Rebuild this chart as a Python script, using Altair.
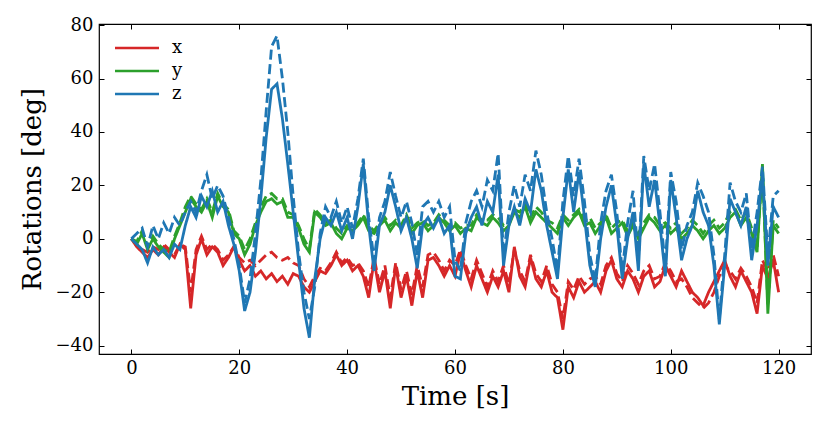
import altair as alt
import pandas as pd

# time stamps (s)
t = list(range(121))

# x rotation (red)
x_solid = [0, -3, -5, -7, -4, -6, -3, -5, -7, -2, -4, -26, -6, 0, -6, -3, -5, -10, -7, -3,
           -8, -12, -10, -14, -12, -15, -13, -16, -14, -17, -13, -14, -18, -20, -16, -12, -13, -10, -6, -10,
           -8, -12, -10, -14, -22, -8, -20, -12, -26, -10, -22, -14, -25, -12, -22, -8, -7, -10, -14, -10,
           -14, -5, -12, -18, -10, -15, -20, -14, -18, -12, -20, -3, -14, -18, -7, -15, -18, -12, -20, -22,
           -34, -18, -22, -16, -20, -18, -16, -20, -12, -8, -15, -18, -12, -15, -20, -14, -12, -18, -16, -10,
           -14, -18, -12, -16, -20, -22, -25, -20, -16, -12, -8, -14, -18, -12, -16, -20, -28, -10, -15, -8,
           -20]
x_dashed = [0, -2, -4, -5, -3, -4, -2, -4, -6, -2, -3, -20, -4, 1, -4, -2, -4, -8, -6, -3,
            -7, -9, -8, -10, -8, -6, -5, -7, -8, -7, -9, -10, -15, -18, -14, -11, -12, -9, -5, -9,
            -7, -10, -9, -12, -18, -7, -17, -10, -22, -9, -19, -12, -21, -10, -18, -6, -5, -8, -12, -8,
            -10, -4, -10, -15, -8, -13, -18, -12, -16, -10, -17, -4, -12, -16, -6, -13, -16, -10, -17, -20,
            -30, -16, -19, -14, -17, -15, -14, -17, -10, -7, -13, -16, -10, -13, -17, -12, -10, -15, -14, -9,
            -12, -16, -15, -18, -22, -24, -26, -24, -20, -14, -10, -12, -15, -11, -14, -18, -24, -8, -12, -6,
            -14]

# y rotation (green)
y_solid = [0, -2, 2, -4, 0, -3, -5, -7, 0, 5, 10, 15, 12, 10, 14, 8, 16, 12, 10, 2,
           0, -6, -2, 5, 10, 14, 15, 13, 14, 8, 8, 4, -2, -5, 10, 8, 5, 6, 2, 0,
           4, 3, 5, 8, 3, 2, 5, 7, 3, 6, 4, 8, 2, 5, 6, 3, 5, 8, 6, 3,
           5, 2, 4, 3, 8, 6, 5, 8, 6, 3, 5, 10, 8, 12, 6, 10, 8, 6, 4, 2,
           8, 5, 8, 10, 5, 6, 2, 5, 8, 2, 4, 6, 1, 5, 0, 4, 8, 6, 3, 5,
           2, 4, 0, 2, 5, 3, 0, 3, 5, 2, 4, 8, 10, 5, 8, 2, -5, 28, -28, 5,
           2]
y_dashed = [0, -1, 3, -3, 1, -2, -4, -5, 1, 6, 12, 16, 13, 11, 15, 10, 17, 13, 11, 3,
            1, -4, 0, 6, 12, 16, 17, 15, 15, 10, 9, 5, 0, -4, 11, 9, 6, 7, 4, 2,
            5, 4, 6, 9, 5, 3, 6, 8, 5, 7, 5, 9, 4, 6, 7, 5, 6, 9, 7, 5,
            6, 4, 5, 5, 9, 7, 7, 9, 8, 5, 6, 11, 10, 13, 8, 12, 10, 7, 6, 4,
            9, 7, 9, 11, 7, 8, 4, 6, 9, 4, 6, 7, 3, 6, 2, 6, 9, 8, 5, 6,
            4, 6, 2, 4, 7, 5, 2, 5, 7, 4, 6, 10, 11, 7, 10, 4, -3, 26, -25, 7,
            4]

# z rotation (blue)
z_solid = [0, -2, -4, -9, -3, -6, -4, -7, -2, -4, 5, 12, 8, 16, 12, 18, 10, 14, 5, -2,
           -12, -27, -20, -5, 15, 38, 56, 58, 45, 28, 10, -8, -26, -37, -15, 0, 8, 5, 10, 3,
           8, 0, 12, 28, 5, -12, 5, 10, 20, 12, 3, 8, 0, -11, 5, 8, 4, 8, 2, 5,
           -14, -15, 2, 8, 12, 5, 14, 10, 24, -10, 5, 12, 5, 15, 10, 26, 18, 5, -5, -15,
           8, 26, 10, 25, 8, -10, -18, 0, 12, 20, 5, -15, 0, 10, -12, 28, 12, 22, 5, -14,
           22, 8, -8, 0, 5, 18, 10, 5, -10, -32, -10, 15, 10, 5, 12, -8, 5, 24, -10, 12,
           8]
z_dashed = [0, 2, 4, -3, 5, 0, 6, 2, 8, 5, 10, 14, 10, 18, 24, 15, 20, 16, 8, 0,
            -10, -24, -15, 2, 22, 48, 72, 76, 60, 40, 16, -5, -20, -30, -18, 2, 12, 8, 14, 6,
            12, 4, 15, 30, 8, -8, 8, 14, 25, 16, 8, 14, 6, -6, 12, 14, 10, 14, 8, 12,
            -8, -12, 6, 14, 18, 12, 22, 18, 32, -6, 10, 20, 12, 24, 18, 33, 24, 10, 0, -12,
            14, 31, 16, 30, 14, -6, -16, 6, 18, 24, 10, -12, 6, 18, -8, 31, 18, 28, 10, -10,
            25, 14, -4, 5, 10, 21, 16, 10, -6, -30, -6, 21, 14, 10, 17, -4, 10, 27, -6, 16,
            18]

series = [
    ("x", "solid", x_solid), ("x", "dashed", x_dashed),
    ("y", "solid", y_solid), ("y", "dashed", y_dashed),
    ("z", "solid", z_solid), ("z", "dashed", z_dashed),
]
rows = []
for comp, kind, vals in series:
    for ti, v in zip(t, vals):
        rows.append({"t": ti, "v": v, "comp": comp, "kind": kind})
df = pd.DataFrame(rows)

FONT = "DejaVu Serif"
xscale = alt.Scale(domain=[-6, 126], nice=False, zero=False)
yscale = alt.Scale(domain=[-43.1, 80.4], nice=False, zero=False)

common_axis = dict(domain=False, grid=False, ticks=True, tickSize=5, tickWidth=1,
                   tickColor="black", offset=-5, labelFont=FONT, labelFontSize=18,
                   labelColor="black", titleFont=FONT, titleFontSize=26,
                   titleFontWeight="normal", titleColor="black")

main = alt.Chart(df).mark_line(strokeWidth=2.8).encode(
    x=alt.X("t:Q", scale=xscale,
            axis=alt.Axis(values=[0, 20, 40, 60, 80, 100, 120], title="Time [s]",
                          labelPadding=5, titlePadding=6, **common_axis)),
    y=alt.Y("v:Q", scale=yscale,
            axis=alt.Axis(values=[-40, -20, 0, 20, 40, 60, 80], title="Rotations [deg]",
                          labelPadding=6, titlePadding=10, **common_axis)),
    color=alt.Color("comp:N",
                    scale=alt.Scale(domain=["x", "y", "z"],
                                    range=["#d62728", "#2ca02c", "#1f77b4"]),
                    legend=alt.Legend(title=None, orient="none", legendX=29, legendY=15,
                                      symbolType="M-4.4,0H4.4", symbolSize=100,
                                      symbolStrokeWidth=2.5, labelFont=FONT,
                                      labelFontSize=18, labelColor="black",
                                      labelOffset=26, rowPadding=5, padding=0)),
    strokeDash=alt.StrokeDash("kind:N",
                              scale=alt.Scale(domain=["solid", "dashed"],
                                              range=[[1, 0], [10, 4.5]]),
                              legend=None),
)

frame_axes = alt.Chart(df).mark_line(opacity=0).encode(
    x=alt.X("t:Q", scale=xscale,
            axis=alt.Axis(orient="top", values=[0, 20, 40, 60, 80, 100, 120], labels=False,
                          title=None, domain=False, grid=False, tickSize=5, tickWidth=1,
                          tickColor="black", offset=-5)),
    y=alt.Y("v:Q", scale=yscale,
            axis=alt.Axis(orient="right", values=[-40, -20, 0, 20, 40, 60, 80], labels=False,
                          title=None, domain=False, grid=False, tickSize=5, tickWidth=1,
                          tickColor="black", offset=-5)),
    detail="comp:N",
)

chart = alt.layer(main, frame_axes).resolve_axis(x="independent", y="independent").properties(
    width=712, height=330, autosize="none", background="white",
    padding={"left": 91, "top": 16, "right": 6, "bottom": 60},
).configure_view(stroke="black", strokeWidth=1.2)

chart.save("out.html", embed_options={"renderer": "svg", "actions": False})
